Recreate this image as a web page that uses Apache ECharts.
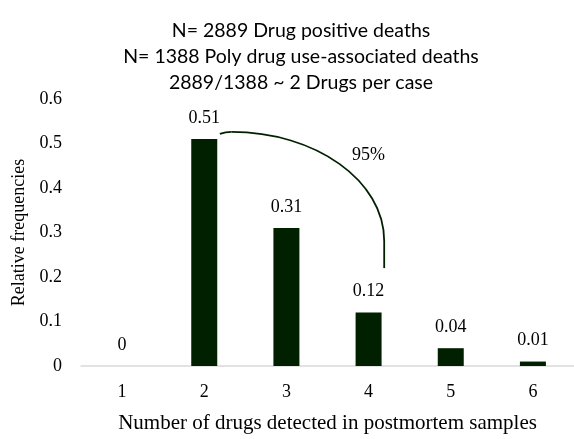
<!DOCTYPE html>
<html>
<head>
<meta charset="utf-8">
<script src="https://cdn.jsdelivr.net/npm/echarts@6/dist/echarts.min.js"></script>
<style>html,body{margin:0;padding:0;background:#fff}#c{width:574px;height:439px}</style>
</head>
<body>
<div id="c"></div>
<script>
var categories = ['1', '2', '3', '4', '5', '6'];
var values = [0, 0.51, 0.31, 0.12, 0.04, 0.01];
var yTicks = [0, 0.1, 0.2, 0.3, 0.4, 0.5, 0.6];
var titleLines = ['N= 2889 Drug positive deaths', 'N= 1388 Poly drug use-associated deaths', '2889/1388 ~ 2 Drugs per case'];
var annotationText = '95%';
var xName = 'Number of drugs detected in postmortem samples';
var yName = 'Relative frequencies';

var chart = echarts.init(document.getElementById('c'));
var serif = '"Liberation Serif", "Times New Roman", serif';
var option = {
  animation: false,
  title: {
    text: titleLines.join('\n'),
    left: 296, top: 13, textAlign: 'center',
    textStyle: { fontFamily: 'Lato, "Open Sans", sans-serif', fontSize: 19.5, fontWeight: 'normal', color: '#000', lineHeight: 26 }
  },
  grid: { left: 81, right: -2, top: 99, bottom: 65, containLabel: false },
  xAxis: {
    type: 'category', data: categories,
    name: xName, nameLocation: 'middle', nameGap: 47,
    nameTextStyle: { fontFamily: serif, fontSize: 21, color: '#000' },
    axisLine: { lineStyle: { color: '#d9d9d9', width: 1.5 } },
    axisTick: { show: false },
    axisLabel: { fontFamily: serif, fontSize: 18, color: '#000', margin: 17 }
  },
  yAxis: {
    type: 'value', min: yTicks[0], max: yTicks[yTicks.length - 1], interval: 0.1,
    name: yName, nameLocation: 'middle', nameGap: 45,
    nameTextStyle: { fontFamily: serif, fontSize: 18, color: '#000' },
    axisLine: { show: false }, axisTick: { show: false }, splitLine: { show: false },
    axisLabel: { fontFamily: serif, fontSize: 18, color: '#000', margin: 19, formatter: function (v) { return String(Math.round(v * 10) / 10); } }
  },
  series: [{
    type: 'bar', data: values, barWidth: 26,
    itemStyle: { color: '#012000' },
    label: { show: true, position: 'top', distance: 12, fontFamily: serif, fontSize: 18, color: '#000' }
  }]
};
chart.setOption(option);

function px(catPos, val) {
  var i0 = Math.floor(catPos), f = catPos - i0;
  var a = chart.convertToPixel({ gridIndex: 0 }, [i0, val]);
  var b = chart.convertToPixel({ gridIndex: 0 }, [i0 + 1, val]);
  return [a[0] + (b[0] - a[0]) * f, a[1]];
}
var s = px(1.19, 0.5215);
var t = px(1.33, 0.526);
var r = px(3.19, 0.281);
var e = px(3.19, 0.22);
var k = 0.552;
var lineStyle = { fill: null, stroke: '#012000', lineWidth: 1.8 };
var tp = px(3.0, 0.4735);
chart.setOption({
  graphic: [
    { type: 'bezierCurve', shape: { x1: s[0], y1: s[1], x2: t[0], y2: t[1], cpx1: (s[0] + t[0]) / 2, cpy1: t[1], cpx2: (s[0] + t[0]) / 2, cpy2: t[1] }, style: lineStyle },
    { type: 'bezierCurve', shape: { x1: t[0], y1: t[1], x2: r[0], y2: r[1], cpx1: t[0] + k * (r[0] - t[0]), cpy1: t[1], cpx2: r[0], cpy2: r[1] - k * (r[1] - t[1]) }, style: lineStyle },
    { type: 'line', shape: { x1: r[0], y1: r[1], x2: e[0], y2: e[1] }, style: lineStyle },
    { type: 'text', x: tp[0], y: tp[1], style: { text: annotationText, fontFamily: serif, fontSize: 18, fill: '#000', align: 'center', verticalAlign: 'middle' } }
  ]
});
</script>
</body>
</html>
